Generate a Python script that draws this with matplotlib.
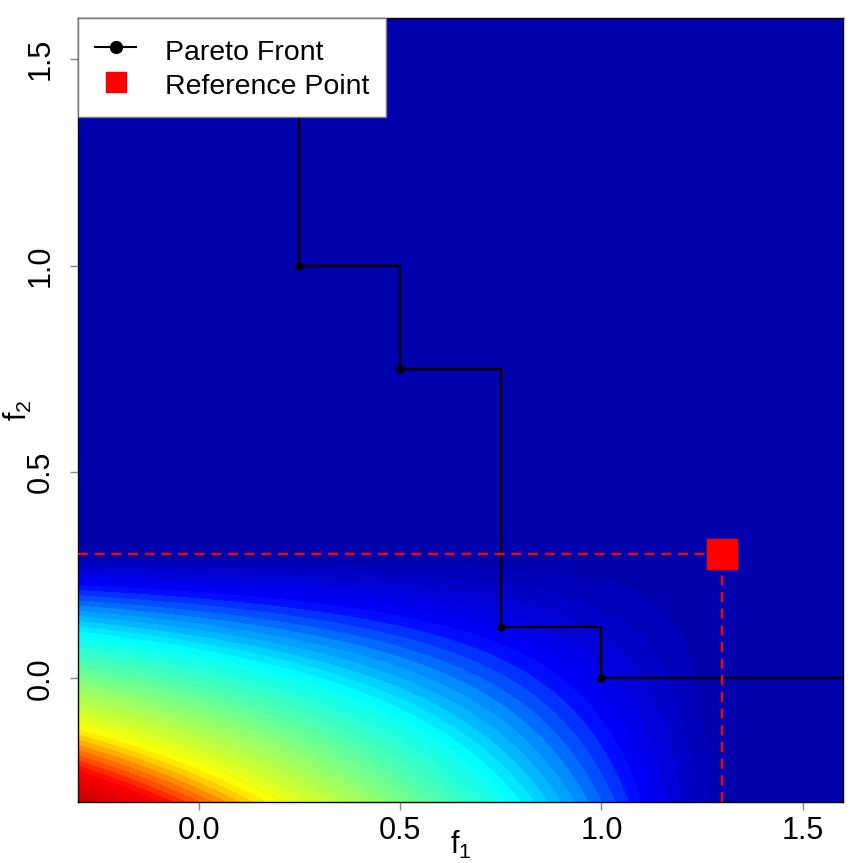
import numpy as np
import matplotlib
matplotlib.use("Agg")
import matplotlib.pyplot as plt
from matplotlib.colors import LinearSegmentedColormap, Normalize
from matplotlib.lines import Line2D

plt.rcParams['font.family'] = ['Liberation Sans', 'DejaVu Sans']
plt.rcParams['mathtext.fontset'] = 'custom'
plt.rcParams['mathtext.rm'] = 'Liberation Sans'
plt.rcParams['mathtext.it'] = 'Liberation Sans'

# ---- data ----
pareto_f1 = [0.25, 0.5, 0.75, 1.0]
pareto_f2 = [1.0, 0.75, 0.125, 0.0]
ref_point = [1.3, 0.3]
f_range = [-0.3, 1.6]
x_ticks = [0.0, 0.5, 1.0, 1.5]
y_ticks = [0.0, 0.5, 1.0, 1.5]
legend_labels = ["Pareto Front", "Reference Point"]

# colour stops (value of dominated hypervolume -> colour)
stop_vals = [0.0, 0.03, 0.12, 0.20, 0.31, 0.49, 0.68, 0.76, 0.84, 0.96]
stop_cols = ["#0000AA", "#0000BB", "#0000FF", "#007FFF", "#00FFFF",
             "#7FFF7F", "#FFFF00", "#FF7F00", "#FF0000", "#C00000"]

fig = plt.figure(figsize=(8.63, 8.63), dpi=100)
ax = fig.add_axes([78/863, 1-802/863, 765/863, 784/863])

# hypervolume dominated by each grid point w.r.t. the reference point
g = np.linspace(f_range[0], f_range[1], 700)
X, Y = np.meshgrid(g, g)
Z = np.clip(ref_point[0] - X, 0, None) * np.clip(ref_point[1] - Y, 0, None)

vmax = stop_vals[-1]
cmap = LinearSegmentedColormap.from_list(
    "hv", [(v / vmax, c) for v, c in zip(stop_vals, stop_cols)])
levels = np.concatenate([[-0.01], np.arange(0.02, Z.max() + 0.02, 0.02)])
ax.contourf(X, Y, Z, levels=levels, cmap=cmap, norm=Normalize(0, vmax),
            antialiased=False)

# Pareto front (staircase)
sx = [pareto_f1[0]] + pareto_f1 + [f_range[1] + 0.1]
sy = [f_range[1] + 0.1] + pareto_f2 + [pareto_f2[-1]]
ax.step(sx, sy, where='post', color='black', lw=1.7, zorder=3)
ax.plot(pareto_f1, pareto_f2, 'o', color='black', ms=5, zorder=4)

# reference point and dashed guide lines
ax.plot([f_range[0], ref_point[0]], [ref_point[1], ref_point[1]],
        color='#FF0000', lw=1.6, dashes=(4.5, 3), zorder=3)
ax.plot([ref_point[0], ref_point[0]], [f_range[0], ref_point[1]],
        color='#FF0000', lw=1.6, dashes=(4.5, 3), zorder=3)
ax.plot([ref_point[0]], [ref_point[1]], 's', color='#FF0000', ms=21, zorder=5)

ax.set_xlim(f_range)
ax.set_ylim(f_range)
ax.set_xticks(x_ticks)
ax.set_yticks(y_ticks)
ax.set_xticklabels([f"{t:.1f}" for t in x_ticks])
ax.set_yticklabels([f"{t:.1f}" for t in y_ticks], rotation=90, va='center')
ax.tick_params(axis='both', length=6, width=1, color='#888888',
               labelsize=22, direction='out')
ax.tick_params(axis='x', pad=4)
ax.tick_params(axis='y', pad=10)
for s in ax.spines.values():
    s.set_linewidth(1.0)
    s.set_color('black')

ax.set_xlabel(r"$\mathrm{f}_1$", fontsize=22)
ax.xaxis.set_label_coords(0.5, -0.034)
ax.set_ylabel(r"$\mathrm{f}_2$", fontsize=22, rotation=90)
ax.yaxis.set_label_coords(-0.058, 0.5)

handles = [Line2D([], [], color='black', lw=1.5, marker='o', ms=8.5),
           Line2D([], [], color='#FF0000', lw=0, marker='s', ms=15)]
leg = ax.legend(handles, legend_labels, loc='upper left',
                bbox_to_anchor=(0, 1), borderaxespad=0, fontsize=20.5,
                frameon=True, fancybox=False, framealpha=1,
                edgecolor='#777777', handlelength=1.45, handletextpad=1.0,
                handleheight=1.23, borderpad=0.6, labelspacing=0.15)
leg.get_frame().set_linewidth(1.0)
leg.set_zorder(10)

fig.savefig("out.png", dpi=100)
